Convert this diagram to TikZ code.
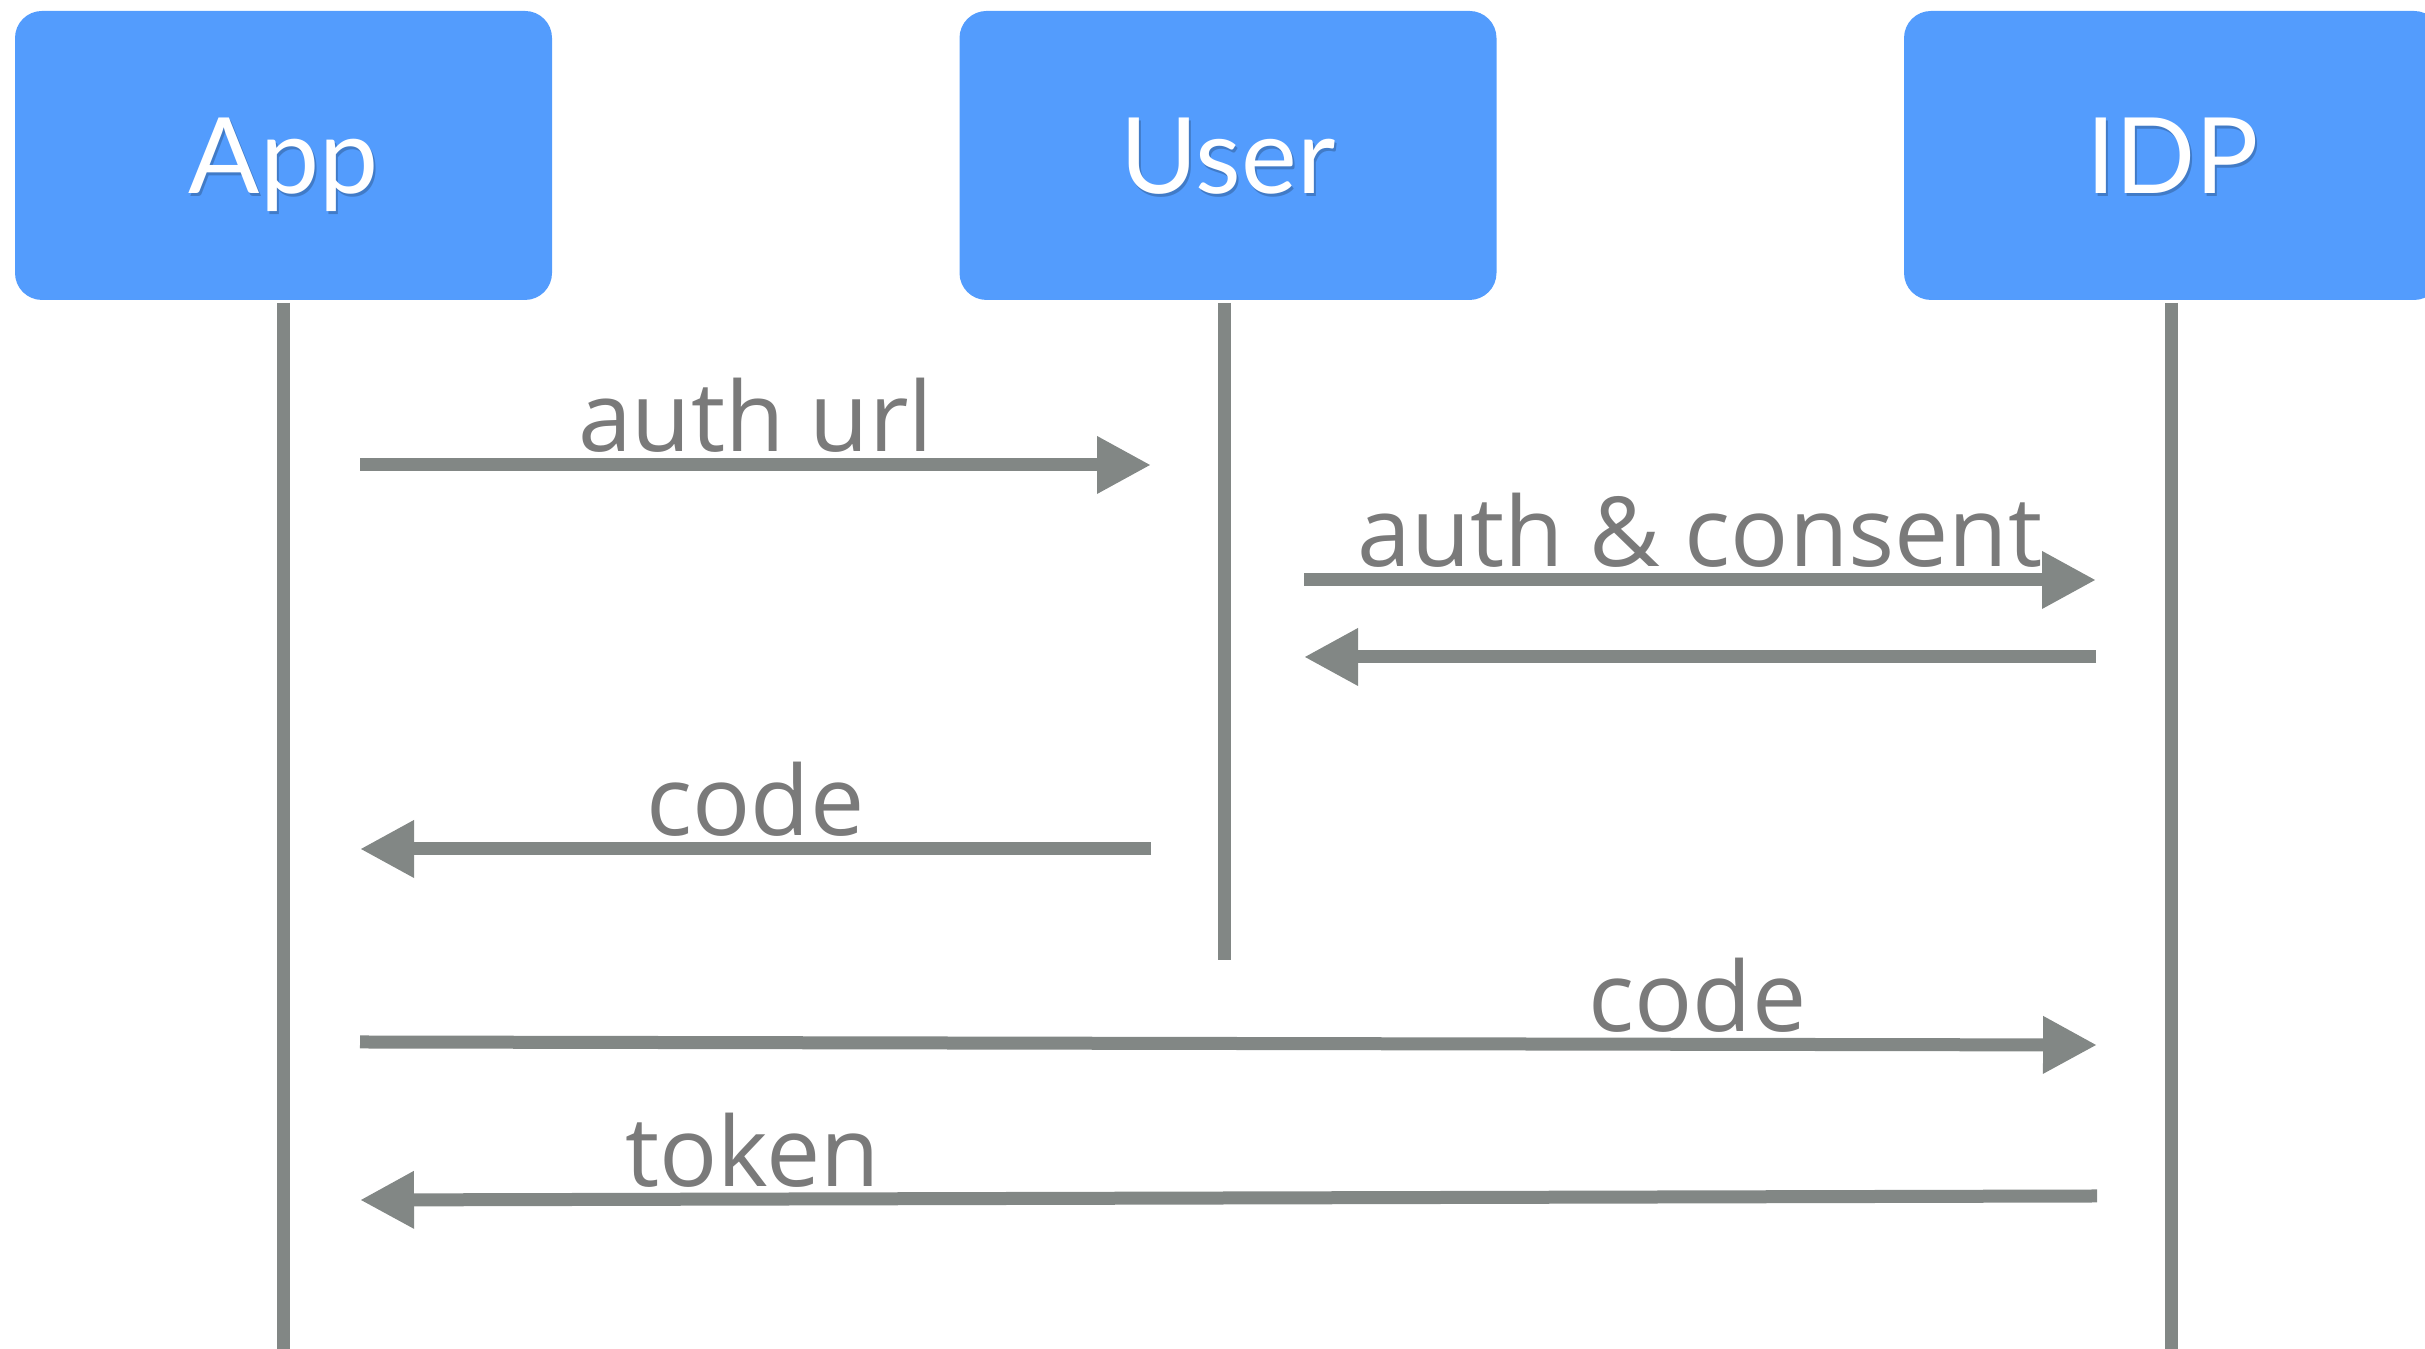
\documentclass[tikz,border=0pt]{standalone}
\usepackage{fontspec}
\setmainfont{Open Sans}
\newfontfamily\actorfont{Lato}
\usetikzlibrary{positioning, arrows.meta}
\definecolor{actorblue}{RGB}{83,156,253}
\definecolor{lifegray}{RGB}{130,135,133}
\definecolor{msggray}{RGB}{122,122,122}

\begin{document}
\begin{tikzpicture}[
    actor/.style={fill=actorblue, rounded corners=0.27cm, minimum width=5.37cm, minimum height=2.89cm, inner sep=0pt},
    actortext/.style={text=white, font=\actorfont\fontsize{30}{36}\selectfont, text height=0.77cm, text depth=0pt, inner sep=0pt},
    actorshadow/.style={actortext, text=black!70!actorblue, opacity=0.3},
    lifeline/.style={draw=lifegray, line width=0.13cm},
    msg/.style={draw=lifegray, line width=0.13cm, -{Triangle[length=0.54cm, width=0.54cm]}},
    msglabel/.style={anchor=base, yshift=0.13cm, inner sep=0pt, text=msggray, font=\fontsize{27.5}{33}\selectfont}
]
    \useasboundingbox (0,0) rectangle (24.25,13.49);
    \clip (0,0) rectangle (24.25,13.49);

    %Actors
    \foreach \name/\txt/\x in {app/App/2.835, user/User/12.28, idp/IDP/21.725}{
        \node[actor] (\name) at (\x, 11.935) {};
        \node[actorshadow] (\name shadow) at ([shift={(0.02,-0.03)}]\name.center) {\txt};
        \node[actortext] (\name label) at (\name.center) {\txt};
    }

    %Lifelines
    \coordinate (apptop) at (2.83, 10.46);
    \coordinate (appbot) at (2.83, 0);
    \coordinate (usertop) at (12.24, 10.46);
    \coordinate (userbot) at (12.24, 3.89);
    \coordinate (idptop) at (21.71, 10.46);
    \coordinate (idpbot) at (21.71, 0);
    \draw[lifeline] (apptop) -- (appbot);
    \draw[lifeline] (usertop) -- (userbot);
    \draw[lifeline] (idptop) -- (idpbot);

    %Message ends
    \coordinate (url1) at (3.60, 8.84);
    \coordinate (url2) at (11.51, 8.84);
    \coordinate (consent1) at (13.04, 7.69);
    \coordinate (consent2) at (20.96, 7.69);
    \coordinate (back1) at (20.96, 6.92);
    \coordinate (back2) at (13.04, 6.92);
    \coordinate (code1) at (11.51, 5.00);
    \coordinate (code2) at (3.60, 5.00);
    \coordinate (exch1) at (3.60, 3.07);
    \coordinate (exch2) at (20.97, 3.04);
    \coordinate (token1) at (20.97, 1.53);
    \coordinate (token2) at (3.60, 1.49);

    %Messages
    \draw[msg] (url1) -- node[msglabel, pos=0.5] (urllabel) {auth url} (url2);
    \draw[msg] (consent1) -- node[msglabel, pos=0.5] (consentlabel) {auth \& consent} (consent2);
    \draw[msg] (back1) -- (back2);
    \draw[msg] (code1) -- node[msglabel, pos=0.5] (codelabel) {code} (code2);
    \draw[msg] (exch1) -- node[msglabel, pos=0.77] (exchlabel) {code} (exch2);
    \draw[msg] (token1) -- node[msglabel, pos=0.774] (tokenlabel) {token} (token2);
\end{tikzpicture}
\end{document}
